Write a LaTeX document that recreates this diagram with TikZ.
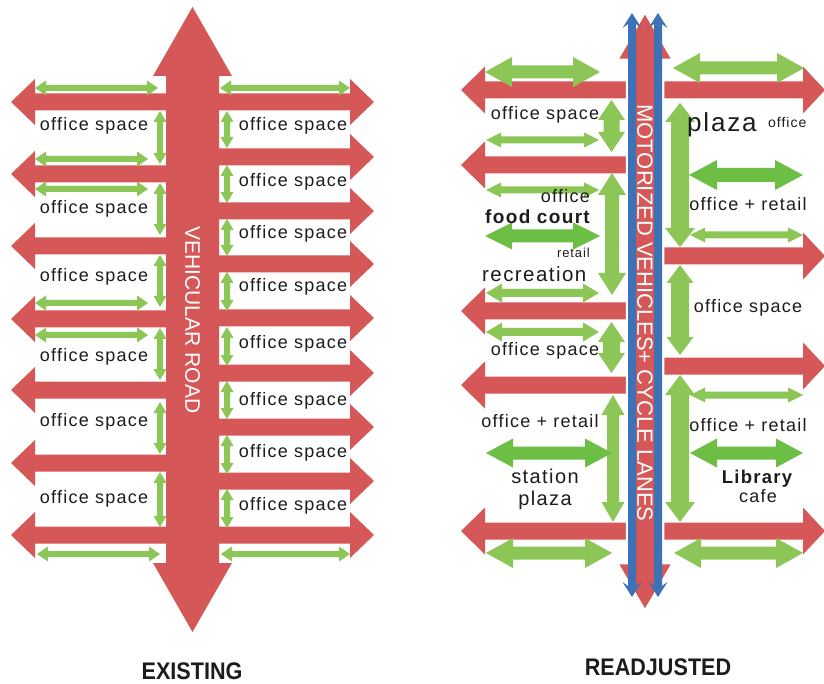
\documentclass[tikz,border=0pt]{standalone}
\usepackage{fontspec}
\setmainfont{Liberation Sans}[LetterSpace=7]
\newfontfamily\vfont{Liberation Sans}
\newfontfamily\tfont{Liberation Sans}[FakeStretch=0.9]
\definecolor{rd}{RGB}{214,87,87}
\definecolor{lg}{RGB}{139,198,87}
\definecolor{dg}{RGB}{108,190,69}
\definecolor{bl}{RGB}{62,114,183}
\definecolor{tx}{RGB}{28,28,28}
% horizontal double arrow: y, x1, x2, shaft half, head half, head length, style
\newcommand{\hda}[7]{\fill[#7] (#2,#1) -- ({#2+#6},{#1-#5}) -- ({#2+#6},{#1-#4}) -- ({#3-#6},{#1-#4}) -- ({#3-#6},{#1-#5}) -- (#3,#1) -- ({#3-#6},{#1+#5}) -- ({#3-#6},{#1+#4}) -- ({#2+#6},{#1+#4}) -- ({#2+#6},{#1+#5}) -- cycle;}
% vertical double arrow: x, y1, y2, shaft half, head half, head length, style
\newcommand{\vda}[7]{\fill[#7] (#1,#2) -- ({#1-#5},{#2+#6}) -- ({#1-#4},{#2+#6}) -- ({#1-#4},{#3-#6}) -- ({#1-#5},{#3-#6}) -- (#1,#3) -- ({#1+#5},{#3-#6}) -- ({#1+#4},{#3-#6}) -- ({#1+#4},{#2+#6}) -- ({#1+#5},{#2+#6}) -- cycle;}
% single horizontal arrow: y, x from, x head base, x tip, shaft half, head half, style
\newcommand{\sha}[7]{\fill[#7] (#2,{#1-#5}) -- (#3,{#1-#5}) -- (#3,{#1-#6}) -- (#4,#1) -- (#3,{#1+#6}) -- (#3,{#1+#5}) -- (#2,{#1+#5}) -- cycle;}
% blue lane with notched heads: x, y1, y2
\newcommand{\vbl}[3]{\fill[bl] (#1,#2) -- ({#1-9.5},{#2+15}) -- ({#1-4},{#2+11}) -- ({#1-4},{#3-11}) -- ({#1-9.5},{#3-15}) -- (#1,#3) -- ({#1+9.5},{#3-15}) -- ({#1+4},{#3-11}) -- ({#1+4},{#2+11}) -- ({#1+9.5},{#2+15}) -- cycle;}
\newcommand{\gh}[3]{\hda{#1}{#2}{#3}{3}{7.5}{11}{lg}}
\newcommand{\gv}[3]{\vda{#1}{#2}{#3}{3}{6.5}{11}{lg}}
\begin{document}
\begin{tikzpicture}[x=1pt,y=-1pt,
  lbl/.style={inner sep=0pt, text height=.72em, text depth=.21em, text=tx, font=\fontsize{18}{20}\selectfont},
  vtxt/.style={inner sep=0pt, text=white, rotate=-90},
  ttl/.style={inner sep=0pt, text=tx, font=\tfont\bfseries\fontsize{24}{26}\selectfont}]
\useasboundingbox (0,0) rectangle (824,684);
\fill[white] (0,0) rectangle (824,684);

% ===== EXISTING =====
\vda{192.5}{7}{632}{26.5}{39.5}{69}{rd}
\foreach \c in {102,174,246,319,390,463,535} {\sha{\c}{192}{35}{11}{8.5}{23}{rd}}
\foreach \c in {102,157,211,264,318,373,427,481,535} {\sha{\c}{192}{350}{374}{8.5}{23}{rd}}

\gh{88}{35}{158} \gh{159}{35}{148} \gh{189}{35}{148}
\gh{303}{35}{148} \gh{335}{35}{148} \gh{554}{37}{160}
\gh{88}{220}{350} \gh{554}{221}{350}
\gv{160}{111}{164} \gv{160}{183}{235} \gv{160}{255}{307}
\gv{160}{328}{380} \gv{160}{402}{454} \gv{160}{472}{527}
\gv{227}{111}{148} \gv{227}{165}{203} \gv{227}{219}{256} \gv{227}{272}{311}
\gv{227}{327}{366} \gv{227}{381}{419} \gv{227}{435}{474} \gv{227}{489}{528}

\foreach \y [count=\i] in {128,211,279,359,424,501} \node[lbl] (l\i) at (94,\y) {office space};
\foreach \y [count=\i] in {128,184,236,289,346,403,455,508} \node[lbl] (r\i) at (293,\y) {office space};
\node[vtxt, font=\vfont\fontsize{21}{24}\selectfont] (road) at (192.5,320) {VEHICULAR ROAD};
\node[ttl] (ex) at (192,671) {EXISTING};

% ===== READJUSTED =====
\foreach \c in {90,165,311,385,531} {\sha{\c}{645}{485}{461}{8.5}{23.5}{rd}}
\foreach \c in {90,256,366,531} {\sha{\c}{645}{803}{825}{8.5}{23.5}{rd}}
\vda{645}{12}{611}{18}{28}{48}{fill=rd, draw=white, line width=2.5pt}
\vbl{632}{13}{597}
\vbl{658}{13}{597}

\hda{72}{485}{600}{6.5}{15}{27}{lg}
\hda{68}{673}{804}{6.5}{15}{27}{lg}
\vda{611.5}{100}{152}{8}{13.5}{20}{lg}
\hda{140}{486}{599}{3.5}{7.5}{15}{lg}
\hda{190}{486}{599}{3.5}{7.5}{15}{lg}
\hda{236}{485}{600}{6.5}{13.5}{27}{dg}
\vda{612}{173}{295}{7}{14}{22}{lg}
\vda{680}{103}{247}{9}{15}{19}{lg}
\hda{175}{689}{803}{7}{15}{28}{dg}
\hda{235}{690}{803}{3.5}{7.5}{15}{lg}
\hda{293}{486}{599}{4}{9.5}{16}{lg}
\hda{332}{486}{599}{4}{9.5}{16}{lg}
\vda{611.5}{322}{373}{8.5}{13.5}{20}{lg}
\vda{680}{265}{355}{9}{13.5}{18}{lg}
\hda{395}{690}{803}{3.5}{7.5}{15}{lg}
\vda{613}{395}{522}{6}{11.5}{20}{lg}
\vda{680}{375}{522}{9}{15}{20}{lg}
\hda{453}{486}{612}{6.5}{14.5}{27}{dg}
\hda{453}{690}{803}{6.5}{14.5}{27}{dg}
\hda{553}{486}{612}{6.5}{15}{27}{lg}
\hda{553}{674}{803}{6.5}{15}{27}{lg}

\node[lbl] (os1) at (545,117) {office space};
\node[lbl, font=\fontsize{26}{28}\selectfont, anchor=base west] (plz) at (687,132) {plaza};
\node[lbl, font=\fontsize{14}{16}\selectfont, anchor=base west] (poff) at (768,128) {office};
\node[lbl, anchor=base east] (off2) at (590,203) {office};
\node[lbl, font=\bfseries\fontsize{19}{21}\selectfont, anchor=base east] (fc) at (590,224) {food court};
\node[lbl, font=\fontsize{13}{15}\selectfont, anchor=base east] (ret) at (590,258) {retail};
\node[lbl, font=\fontsize{20.5}{22}\selectfont, anchor=base west] (rec) at (482,282) {recreation};
\node[lbl] (or0) at (748,208) {office + retail};
\node[lbl] (os2) at (545,353) {office space};
\node[lbl] (os3) at (748,310) {office space};
\node[lbl] (or1) at (540,425) {office + retail};
\node[lbl] (or2) at (748,429) {office + retail};
\node[lbl, font=\fontsize{20}{22}\selectfont, anchor=base] (st) at (545,483) {station};
\node[lbl, font=\fontsize{20}{22}\selectfont, anchor=base] (sp) at (545,505) {plaza};
\node[lbl, font=\bfseries\fontsize{18.5}{20}\selectfont, anchor=base] (lib) at (757,483) {Library};
\node[lbl, anchor=base] (cafe) at (758,502) {cafe};
\node[vtxt, font=\vfont\fontsize{22}{24}\selectfont] (mv) at (645,313) {MOTORIZED VEHICLES+ CYCLE LANES};
\node[ttl] (ra) at (658,667) {READJUSTED};
\end{tikzpicture}
\end{document}
